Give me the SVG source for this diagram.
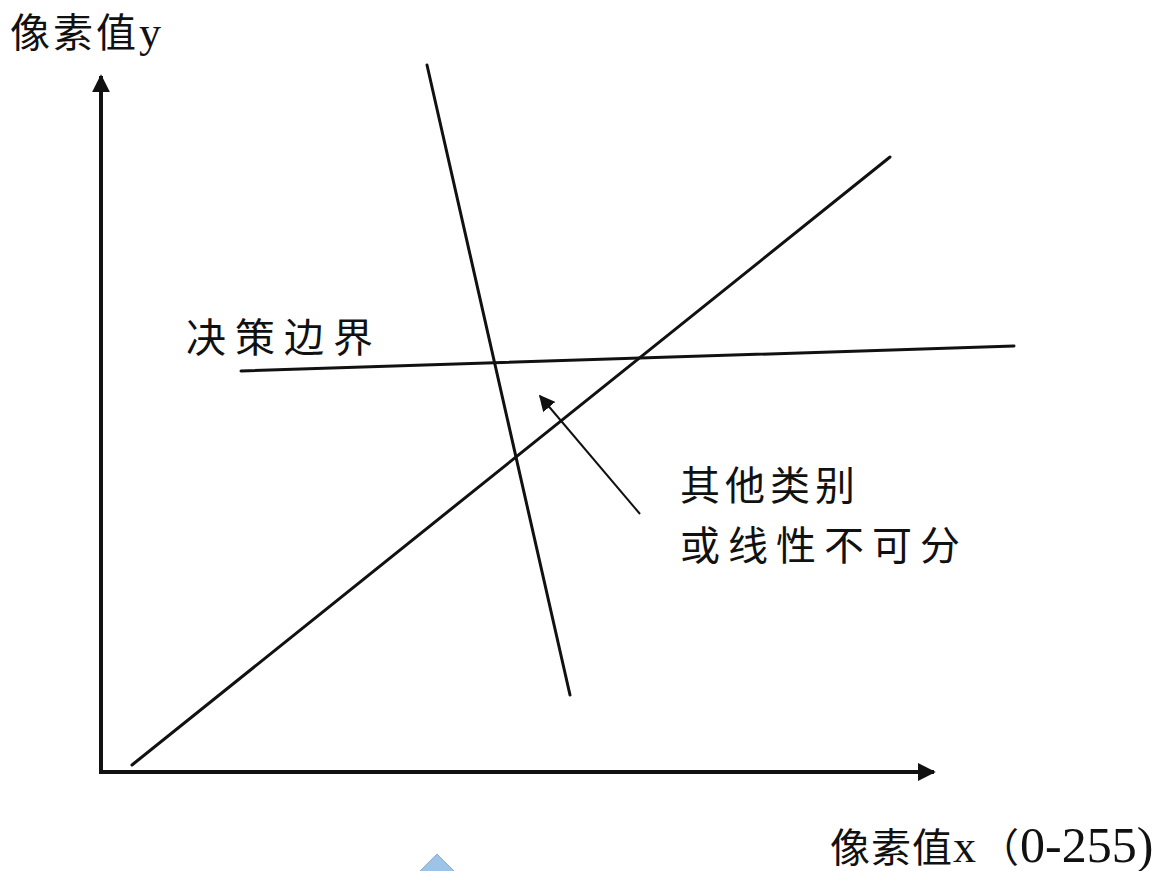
<svg xmlns="http://www.w3.org/2000/svg" width="1173" height="871" viewBox="0 0 1173 871">
<style>
.t{font-family:"Liberation Serif","Noto Sans CJK SC",serif;fill:#111}
.ln{stroke:#111;stroke-width:3;fill:none;stroke-linecap:round}
.ax{stroke:#111;stroke-width:4;fill:none}
</style>
<defs>
<marker id="ah" viewBox="0 0 10 10" refX="9" refY="5" markerWidth="4.5" markerHeight="4.5" orient="auto" markerUnits="strokeWidth"><path d="M0,0 L10,5 L0,10 z" fill="#111"/></marker>
<marker id="ah2" viewBox="0 0 10 10" refX="9" refY="5" markerWidth="8" markerHeight="8" orient="auto" markerUnits="strokeWidth"><path d="M0,0 L10,5 L0,10 z" fill="#111"/></marker>
</defs>
<rect width="1173" height="871" fill="#fff"/>
<g id="axes">
<path class="ax" d="M101,772 L101,76" marker-end="url(#ah)"/>
<path class="ax" d="M99,772 L934,772" marker-end="url(#ah)"/>
</g>
<g id="connectors">
<line class="ln" x1="132" y1="765" x2="890" y2="157"/>
<line class="ln" x1="427" y1="65" x2="570" y2="695"/>
<line class="ln" x1="241" y1="371" x2="1014" y2="346"/>
<line x1="640" y1="514" x2="540" y2="396" stroke="#111" stroke-width="2" marker-end="url(#ah2)"/>
</g>
<g id="label-y"><text class="t" x="10" y="47" font-size="40" letter-spacing="3">像素值<tspan font-size="44">y</tspan></text></g>
<g id="label-boundary"><text class="t" x="186" y="352" font-size="40" letter-spacing="9">决策边界</text></g>
<g id="label-other"><text class="t" x="680" y="500" font-size="40" letter-spacing="5">其他类别</text>
<text class="t" x="680" y="560" font-size="40" letter-spacing="8">或线性不可分</text></g>
<g id="label-x"><text class="t" y="862" font-size="40"><tspan x="830" letter-spacing="1">像素值</tspan><tspan x="953" font-size="46">x</tspan><tspan x="979">（</tspan><tspan x="1020" font-size="50">0-255)</tspan></text></g>
<g id="shape-triangle"><polygon points="437,854 400,891 474,891" fill="#9dc3e6" stroke="#8eaed0" stroke-width="1"/></g>
</svg>
